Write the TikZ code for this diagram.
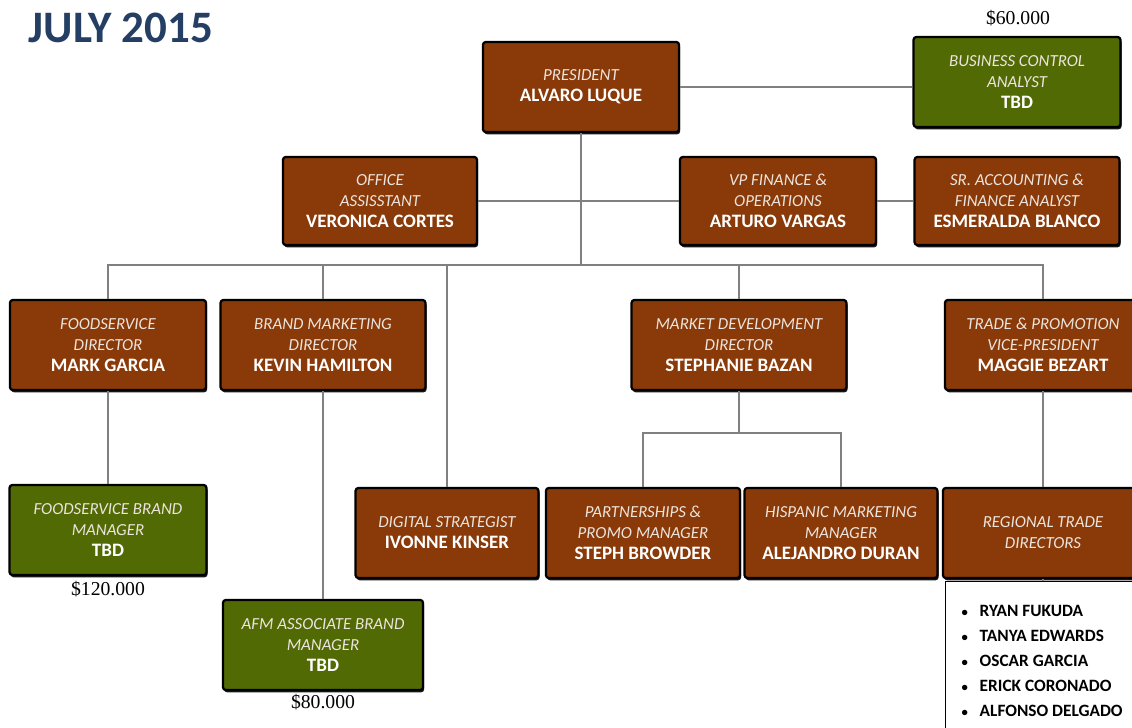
\documentclass[tikz,border=0pt]{standalone}
\usepackage{fontspec}
\setmainfont{Carlito}
\newfontfamily\payfont{Liberation Serif}
\usetikzlibrary{positioning, shadows}

\definecolor{boxbrown}{RGB}{138,58,8}
\definecolor{boxgreen}{RGB}{82,106,4}
\definecolor{rolegray}{RGB}{236,228,222}
\definecolor{linkgray}{RGB}{128,128,128}
\definecolor{titleblue}{RGB}{36,62,100}

\newcommand{\role}[1]{{\itshape\color{rolegray}#1}}
\newcommand{\who}[1]{{\fontsize{13.5}{15}\selectfont\bfseries #1}}
\newcommand{\crewitem}[1]{\makebox[0.45cm][l]{\fontsize{9}{9}\selectfont\textbullet}#1}

\tikzset{
  post/.style={draw=black, line width=1.6pt, rounded corners=2pt,
    minimum height=2.25cm, align=center, text=white,
    font=\fontsize{12}{15}\selectfont,
    drop shadow={shadow xshift=0.8pt, shadow yshift=-1.6pt, fill=black, opacity=0.9}},
  brownpost/.style={post, fill=boxbrown},
  greenpost/.style={post, fill=boxgreen},
  link/.style={draw=linkgray, line width=0.8pt},
  pay/.style={font=\payfont\fontsize{14}{16}\selectfont},
  crewbox/.style={draw=black, line width=1pt, fill=white, align=flush left,
    text width=4.2cm, minimum height=3.95cm, inner xsep=0.4cm,
    text=black, font=\bfseries\fontsize{12.3}{17.7}\selectfont},
}

\begin{document}
\begin{tikzpicture}[x=0.025cm, y=-0.025cm]
  \useasboundingbox (0,0) rectangle (1132,728);
  %% heading
  \node[font=\bfseries\fontsize{32}{36}\selectfont, text=titleblue] (heading) at (121,28) {JULY 2015};

  %% top
  \node[brownpost, minimum width=4.9cm] (pres) at (581,87)
    {\role{PRESIDENT}\\\who{ALVARO LUQUE}};
  \node[greenpost, minimum width=5.17cm] (bca) at (1017,82)
    {\role{BUSINESS CONTROL}\\\role{ANALYST}\\\who{TBD}};
  \node[pay] (bcapay) at (1018,18) {\$60.000};

  %% staff row
  \node[brownpost, minimum width=4.85cm, minimum height=2.2cm] (oa) at (380,201)
    {\role{OFFICE}\\\role{ASSISSTANT}\\\who{VERONICA CORTES}};
  \node[brownpost, minimum width=4.9cm, minimum height=2.2cm] (vp) at (778,201)
    {\role{VP FINANCE \&}\\\role{OPERATIONS}\\\who{ARTURO VARGAS}};
  \node[brownpost, minimum width=5.12cm, minimum height=2.2cm] (sr) at (1017,201)
    {\role{SR. ACCOUNTING \&}\\\role{FINANCE ANALYST}\\\who{ESMERALDA BLANCO}};

  %% directors
  \node[brownpost, minimum width=4.9cm] (fd) at (108,345)
    {\role{FOODSERVICE}\\\role{DIRECTOR}\\\who{MARK GARCIA}};
  \node[brownpost, minimum width=5.12cm] (bm) at (323,345)
    {\role{BRAND MARKETING}\\\role{DIRECTOR}\\\who{KEVIN HAMILTON}};
  \node[brownpost, minimum width=5.37cm] (md) at (739,345)
    {\role{MARKET DEVELOPMENT}\\\role{DIRECTOR}\\\who{STEPHANIE BAZAN}};
  \node[brownpost, minimum width=4.9cm] (tr) at (1043,345)
    {\role{TRADE \& PROMOTION}\\\role{VICE-PRESIDENT}\\\who{MAGGIE BEZART}};

  %% managers
  \node[greenpost, minimum width=4.92cm] (fbm) at (108,530)
    {\role{FOODSERVICE BRAND}\\\role{MANAGER}\\\who{TBD}};
  \node[pay] (fbmpay) at (108,589) {\$120.000};
  \node[brownpost, minimum width=4.57cm] (dig) at (447,533)
    {\role{DIGITAL STRATEGIST}\\\who{IVONNE KINSER}};
  \node[brownpost, minimum width=4.85cm] (pp) at (643,533)
    {\role{PARTNERSHIPS \&}\\\role{PROMO MANAGER}\\\who{STEPH BROWDER}};
  \node[brownpost, minimum width=4.82cm] (hm) at (841,533)
    {\role{HISPANIC MARKETING}\\\role{MANAGER}\\\who{ALEJANDRO DURAN}};
  \node[brownpost, minimum width=5cm] (rt) at (1043,533)
    {\role{REGIONAL TRADE}\\\role{DIRECTORS}};
  \node[greenpost, minimum width=5cm] (afm) at (323,645)
    {\role{AFM ASSOCIATE BRAND}\\\role{MANAGER}\\\who{TBD}};
  \node[pay] (afmpay) at (323,702) {\$80.000};

  \node[crewbox, anchor=north west] (crew) at (945,581)
    {\crewitem{RYAN FUKUDA}\\
     \crewitem{TANYA EDWARDS}\\
     \crewitem{OSCAR GARCIA}\\
     \crewitem{ERICK CORONADO}\\
     \crewitem{ALFONSO DELGADO}};

  %% connectors
  \coordinate (bus) at (581,265);
  \coordinate (split) at (739,433);
  \draw[link] (pres.east) -- (pres.east -| bca.west);
  \draw[link] (oa.east) -- (vp.west);
  \draw[link] (vp.east) -- (sr.west);
  \draw[link] (pres.south) -- (bus);
  \draw[link] (fd.north) |- (bus) -| (tr.north);
  \draw[link] (bm.north) -- (bm.north |- bus);
  \draw[link] (dig.north) -- (dig.north |- bus);
  \draw[link] (md.north) -- (md.north |- bus);
  \draw[link] (fd.south) -- (fbm.north);
  \draw[link] (bm.south) -- (afm.north);
  \draw[link] (md.south) -- (split);
  \draw[link] (pp.north) |- (split) -| (hm.north);
  \draw[link] (tr.south) -- (rt.north);
  \draw[link] (rt.south) -- (rt.south |- crew.north);
\end{tikzpicture}
\end{document}
